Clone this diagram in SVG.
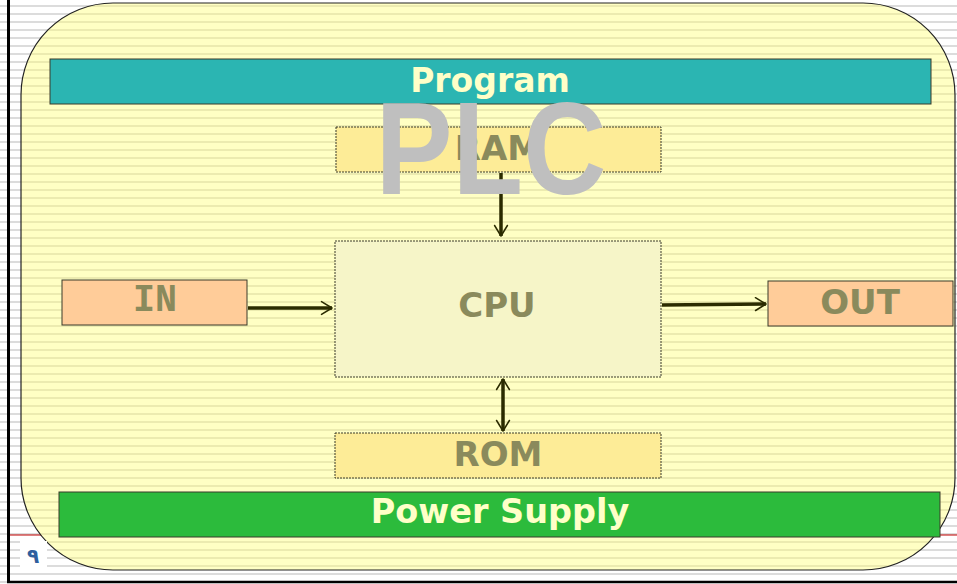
<svg xmlns="http://www.w3.org/2000/svg" width="957" height="584" viewBox="0 0 957 584">
  <defs>
    <pattern id="stripes" x="0" y="0" width="8" height="8" patternUnits="userSpaceOnUse">
      <rect x="0" y="0" width="8" height="8" fill="#ffffff"/>
      <rect x="0" y="5" width="8" height="2" fill="#dcdcdc"/>
    </pattern>
    <pattern id="ystripes" x="0" y="0" width="8" height="8" patternUnits="userSpaceOnUse">
      <rect x="0" y="0" width="8" height="8" fill="#ffffc4"/>
      <rect x="0" y="5" width="8" height="2" fill="#ecebb0"/>
    </pattern>
    <marker id="head" viewBox="0 0 12 14" refX="10.5" refY="7" markerWidth="4" markerHeight="4.7" orient="auto-start-reverse" markerUnits="strokeWidth">
      <path d="M1.5,1.5 L10.5,7 L1.5,12.5" fill="none" stroke="#2b2b00" stroke-width="1.3" stroke-linecap="round" stroke-linejoin="round"/>
    </marker>
    <style>
      .box { stroke: #3a3a2a; stroke-width: 1; }
      .lbl { font-family: "DejaVu Sans", "Liberation Sans", sans-serif; font-weight: bold; fill: #8a8a5c; text-anchor: middle; }
      .bar { font-family: "DejaVu Sans", "Liberation Sans", sans-serif; font-weight: bold; fill: #ffffc8; text-anchor: middle; }
      .conn { stroke: #2b2b00; stroke-width: 3.5; fill: none; }
    </style>
  </defs>

  <!-- slide background -->
  <rect x="0" y="0" width="957" height="584" fill="url(#stripes)"/>
  <line x1="8" y1="535" x2="957" y2="535" stroke="#c00000" stroke-width="1.2"/>
  <line x1="8.5" y1="0" x2="8.5" y2="583" stroke="#000" stroke-width="3"/>
  <line x1="7" y1="582" x2="957" y2="582" stroke="#000" stroke-width="2.5"/>

  <!-- main rounded panel -->
  <rect id="panel" x="21" y="3" width="934" height="567" rx="92" ry="92" fill="url(#ystripes)" stroke="#222" stroke-width="1.2"/>

  <g id="program">
    <rect class="box" x="50" y="59" width="881" height="45" fill="#2bb5b2"/>
    <text class="bar" x="490" y="92" font-size="33">Program</text>
  </g>

  <g id="ram">
    <rect class="box" x="336" y="127" width="325" height="45" fill="#fdec97" stroke-dasharray="2 1"/>
    <text class="lbl" x="498" y="160" font-size="34">RAM</text>
  </g>

  <g id="cpu">
    <rect class="box" x="335" y="241" width="326" height="136" fill="#f6f5c8" stroke-dasharray="2 1"/>
    <text class="lbl" x="497" y="317" font-size="34">CPU</text>
  </g>

  <g id="in">
    <rect class="box" x="62" y="280" width="185" height="45" fill="#ffcc99"/>
    <text x="155" y="311" font-size="38" font-family="'Liberation Mono', 'Courier New', monospace" font-weight="bold" fill="#8a8a5c" text-anchor="middle" textLength="44" lengthAdjust="spacingAndGlyphs">IN</text>
  </g>

  <g id="out">
    <rect class="box" x="768" y="281" width="185" height="45" fill="#ffcc99"/>
    <text class="lbl" x="860" y="314" font-size="34">OUT</text>
  </g>

  <g id="rom">
    <rect class="box" x="335" y="433" width="326" height="45" fill="#fdec97" stroke-dasharray="2 1"/>
    <text class="lbl" x="498" y="466" font-size="34">ROM</text>
  </g>

  <g id="power">
    <rect class="box" x="59" y="492" width="881" height="45" fill="#2cbb3c"/>
    <text class="bar" x="500" y="523" font-size="33.5">Power Supply</text>
  </g>

  <g id="connectors">
    <line class="conn" x1="501" y1="173" x2="501" y2="236" marker-end="url(#head)"/>
    <line class="conn" x1="248" y1="308" x2="332" y2="308" marker-end="url(#head)"/>
    <line class="conn" x1="662" y1="305" x2="766" y2="304" marker-end="url(#head)"/>
    <line class="conn" x1="503" y1="379" x2="503" y2="431" marker-start="url(#head)" marker-end="url(#head)"/>
  </g>

  <g id="title">
    <text x="491" y="194" font-size="132" font-family="'Liberation Sans', Arial, sans-serif" font-weight="bold" fill="#bfbfbf" text-anchor="middle" textLength="231" lengthAdjust="spacingAndGlyphs">PLC</text>
  </g>

  <g id="pagenum">
    <rect x="20" y="541" width="27" height="28" fill="#ffffff"/>
    <text x="33" y="563" font-size="20" font-family="'Noto Sans', 'DejaVu Sans', sans-serif" font-weight="bold" fill="#2f5f9e" text-anchor="middle">٩</text>
  </g>
</svg>
